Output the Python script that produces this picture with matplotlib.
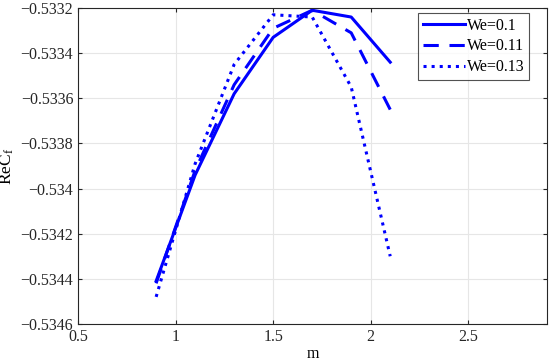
import numpy as np
import matplotlib.pyplot as plt

plt.rcParams['font.family'] = ['Liberation Serif', 'DejaVu Serif']
plt.rcParams['mathtext.fontset'] = 'stix'

m = [0.9, 1.1, 1.3, 1.5, 1.7, 1.9, 2.1]
cf_we010 = [-0.53441, -0.53394, -0.53358, -0.53333, -0.53321, -0.53324, -0.53344]
cf_we011 = [-0.53442, -0.53392, -0.53354, -0.53329, -0.53321, -0.53331, -0.53365]
cf_we013 = [-0.53448, -0.53389, -0.53345, -0.53323, -0.53324, -0.53355, -0.53430]

fig = plt.figure(figsize=(5.5, 3.64), dpi=100)
ax = fig.add_axes([0.142, 0.110, 0.853, 0.868])

ax.plot(m, cf_we010, '-', color='#0000ff', lw=2.2, label='We=0.1')
ax.plot(m, cf_we011, '--', color='#0000ff', lw=2.2, dashes=(5, 3.5), label='We=0.11')
ax.plot(m, cf_we013, ':', color='#0000ff', lw=2.2, label='We=0.13')

ax.set_xlim(0.5, 2.905)
ax.set_ylim(-0.5346, -0.5332)
ax.set_xticks([0.5, 1, 1.5, 2, 2.5])
ax.set_xticklabels(['0.5', '1', '1.5', '2', '2.5'])
yt = [-0.5346, -0.5344, -0.5342, -0.534, -0.5338, -0.5336, -0.5334, -0.5332]
ax.set_yticks(yt)
ax.set_yticklabels(['\u22120.5346', '\u22120.5344', '\u22120.5342', '\u22120.534',
                    '\u22120.5338', '\u22120.5336', '\u22120.5334', '\u22120.5332'])
ax.tick_params(direction='in', labelsize=11.5, colors='#262626', length=3,
               top=True, right=True)
ax.grid(True, color='#e6e6e6', lw=0.8)
for s in ax.spines.values():
    s.set_color('#262626')
    s.set_linewidth(0.8)

ax.set_xlabel('m', fontsize=11.5, labelpad=1)
ax.set_ylabel(r'ReC$_\mathregular{f}$', fontsize=12.5, labelpad=3)

leg = ax.legend(loc='upper right', bbox_to_anchor=(0.962, 0.985), fontsize=11.5,
                frameon=True, fancybox=False, edgecolor='#262626',
                handlelength=2.6, handletextpad=0.15, borderpad=0.3,
                labelspacing=0.3, borderaxespad=0)
leg.get_frame().set_linewidth(0.8)

fig.savefig('out.png', dpi=100)
